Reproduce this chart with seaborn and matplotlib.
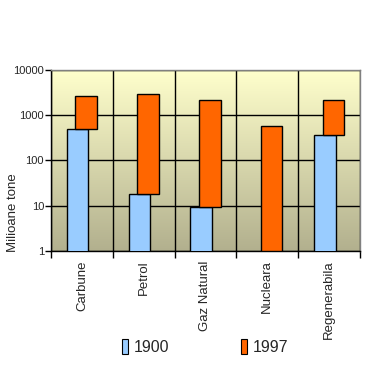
import numpy as np
import pandas as pd
import seaborn as sns
import matplotlib
matplotlib.use("Agg")
import matplotlib.pyplot as plt
from matplotlib.colors import LinearSegmentedColormap
from matplotlib.patches import Patch

# data (milioane tone, log scale)
categories = ["Carbune", "Petrol", "Gaz Natural", "Nucleara", "Regenerabila"]
val_1900 = [500, 18, 9.5, np.nan, 370]
val_1997 = [2600, 3000, 2200, 590, 2200]
years = ["1900", "1997"]
colors = ["#99CCFF", "#FF6600"]

sns.set_style("white")
plt.rcParams["font.family"] = ["Liberation Sans", "DejaVu Sans"]

fig = plt.figure(figsize=(3.69, 3.65), dpi=100)
ax = fig.add_axes([51 / 369, 1 - 250.7 / 365, 309 / 369, 180.7 / 365])

# background gradient
cmap = LinearSegmentedColormap.from_list("bg", ["#FFFFCC", "#B2B08E"])
grad = np.linspace(0, 1, 256).reshape(-1, 1)
ax.imshow(grad, cmap=cmap, aspect="auto", extent=(0, 1, 0, 1),
          transform=ax.transAxes, zorder=0)

pos = np.arange(len(categories))
off = 0.07
w = 0.35

df = pd.DataFrame({"pos": pos - off, "val": val_1900})
sns.barplot(data=df, x="pos", y="val", native_scale=True, width=w,
            color=colors[0], saturation=1, edgecolor="black", linewidth=1,
            log_scale=(False, True), ax=ax, zorder=3)

bottoms = [b if not np.isnan(b) else 1 for b in val_1900]
ax.bar(pos + off, np.array(val_1997) - np.array(bottoms), bottom=bottoms,
       width=w, color=colors[1], edgecolor="black", linewidth=1, zorder=3)

ax.set_yscale("log")
ax.set_ylim(1, 10000)
ax.set_xlim(-0.5, len(categories) - 0.5)
ax.set_yticks([1, 10, 100, 1000, 10000])
ax.set_yticklabels(["1", "10", "100", "1000", "10000"], fontsize=8)
ax.yaxis.set_minor_locator(matplotlib.ticker.NullLocator())
ax.tick_params(axis="y", which="major", left=True, length=4, width=1,
               color="black", pad=1)

ax.set_xticks(pos)
ax.set_xticklabels(categories, rotation=90, fontsize=9.5, va="top")
ax.set_xticks(np.arange(-0.5, len(categories)), minor=True)
ax.tick_params(axis="x", which="major", length=0, pad=7)
ax.tick_params(axis="x", which="minor", bottom=True, length=5, width=1,
               color="black")

ax.grid(False)
ax.grid(True, axis="y", which="major", color="black", linewidth=1, zorder=1)
ax.grid(True, axis="x", which="minor", color="black", linewidth=1, zorder=1)
ax.set_axisbelow(True)

for s in ["left", "bottom"]:
    ax.spines[s].set_color("black")
    ax.spines[s].set_linewidth(1)
for s in ["top", "right"]:
    ax.spines[s].set_color("#808080")
    ax.spines[s].set_linewidth(1)

ax.set_xlabel("")
ax.set_ylabel("Milioane tone", fontsize=9.5)
ax.yaxis.set_label_coords(-0.103, 0.21)

handles = [Patch(facecolor=c, edgecolor="black", linewidth=0.8) for c in colors]
fig.legend(handles, years, loc="center", bbox_to_anchor=(205 / 369, 1 - 347 / 365),
           ncol=2, frameon=False, fontsize=11.5, handlelength=0.4,
           handleheight=1.1, handletextpad=0.35, columnspacing=4.45)

fig.savefig("out.png", dpi=100)
